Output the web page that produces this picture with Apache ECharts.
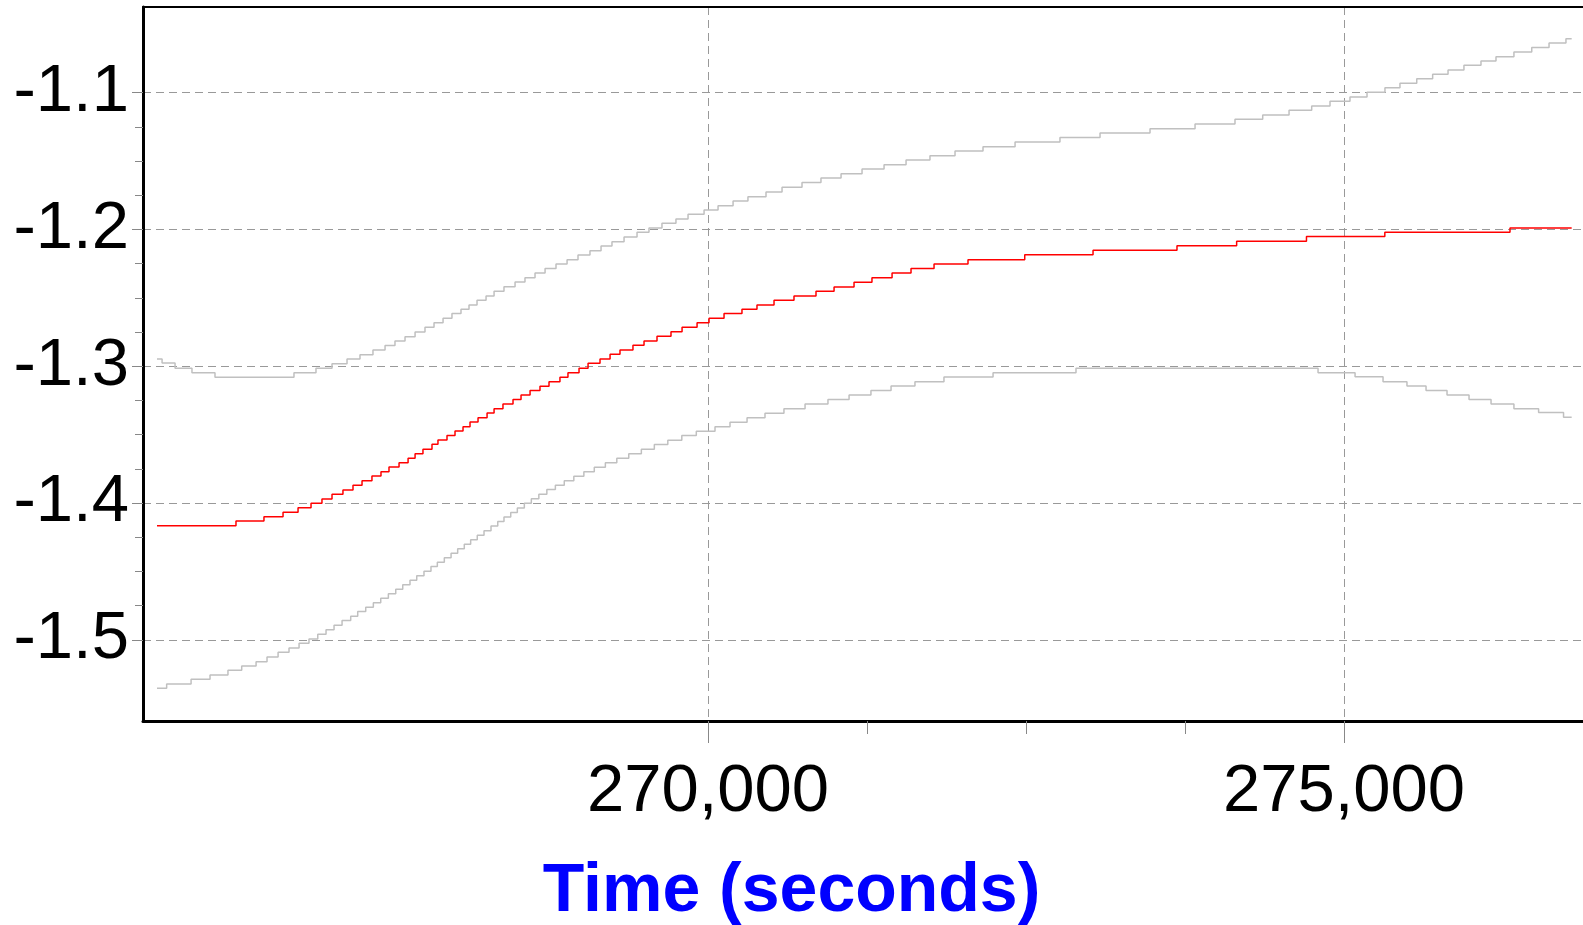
<!DOCTYPE html>
<html><head><meta charset="utf-8">
<script src="https://cdn.jsdelivr.net/npm/echarts@6/dist/echarts.min.js"></script>
<style>html,body{margin:0;padding:0;background:#fff}#c{width:1583px;height:925px}</style>
</head><body><div id="c"></div>
<script>
// Tick values
const xMajorTicks = [270000, 275000];
const xMinorTicks = [271250, 272500, 273750];
const yMajorTicks = [-1.5, -1.4, -1.3, -1.2, -1.1];
const yMinorTicks = [-1.475, -1.45, -1.425, -1.375, -1.35, -1.325, -1.275, -1.25, -1.225, -1.175, -1.15, -1.125];

// Red (estimate) step line
const redT = [265668, 266289, 266509, 266659, 266777, 266879, 266965, 267044, 267130, 267209, 267280, 267358, 267429, 267492, 267571, 267642, 267697, 267759, 267830, 267877, 267948, 268011, 268074, 268129, 268192, 268263, 268318, 268388, 268467, 268530, 268601, 268679, 268750, 268836, 268899, 268986, 269057, 269151, 269230, 269308, 269410, 269497, 269599, 269709, 269796, 269914, 270008, 270126, 270267, 270385, 270519, 270676, 270849, 270991, 271148, 271289, 271447, 271596, 271777, 272044, 272490, 273027, 273687, 274156, 274705, 275321, 276305, 276790];
const redV = [-1.4166, -1.4131, -1.4100, -1.4068, -1.4034, -1.4002, -1.3970, -1.3936, -1.3905, -1.3870, -1.3837, -1.3802, -1.3771, -1.3736, -1.3705, -1.3673, -1.3639, -1.3607, -1.3570, -1.3539, -1.3507, -1.3473, -1.3442, -1.3407, -1.3376, -1.3341, -1.3310, -1.3276, -1.3244, -1.3210, -1.3178, -1.3146, -1.3113, -1.3080, -1.3047, -1.3015, -1.2978, -1.2947, -1.2912, -1.2881, -1.2846, -1.2815, -1.2781, -1.2747, -1.2715, -1.2681, -1.2649, -1.2615, -1.2583, -1.2552, -1.2517, -1.2486, -1.2452, -1.2420, -1.2386, -1.2352, -1.2318, -1.2286, -1.2252, -1.2221, -1.2184, -1.2152, -1.2118, -1.2086, -1.2052, -1.2020, -1.1989, -1.1989];

// Upper bound (grey)
const upperT = [265668, 265708, 265810, 265943, 266124, 266745, 266918, 267044, 267162, 267264, 267366, 267461, 267539, 267618, 267697, 267775, 267846, 267917, 267987, 268058, 268121, 268184, 268255, 268318, 268396, 268483, 268561, 268640, 268719, 268805, 268892, 268978, 269072, 269159, 269245, 269340, 269442, 269536, 269638, 269748, 269843, 269969, 270079, 270197, 270314, 270456, 270582, 270739, 270888, 271046, 271211, 271384, 271557, 271745, 271942, 272162, 272414, 272767, 273082, 273475, 273829, 274143, 274361, 274568, 274746, 274890, 275047, 275181, 275322, 275440, 275572, 275697, 275818, 275943, 276077, 276195, 276336, 276476, 276612, 276745, 276790];
const upperV = [-1.2947, -1.2976, -1.3015, -1.3047, -1.3080, -1.3047, -1.3015, -1.2981, -1.2947, -1.2915, -1.2881, -1.2849, -1.2815, -1.2784, -1.2749, -1.2715, -1.2681, -1.2649, -1.2615, -1.2583, -1.2552, -1.2517, -1.2486, -1.2452, -1.2418, -1.2384, -1.2352, -1.2318, -1.2286, -1.2252, -1.2221, -1.2186, -1.2155, -1.2120, -1.2089, -1.2055, -1.2020, -1.1989, -1.1954, -1.1923, -1.1889, -1.1857, -1.1826, -1.1791, -1.1760, -1.1726, -1.1691, -1.1657, -1.1623, -1.1592, -1.1557, -1.1526, -1.1492, -1.1460, -1.1426, -1.1394, -1.1360, -1.1328, -1.1294, -1.1263, -1.1228, -1.1194, -1.1162, -1.1128, -1.1097, -1.1062, -1.1031, -1.0997, -1.0963, -1.0931, -1.0897, -1.0865, -1.0833, -1.0799, -1.0768, -1.0736, -1.0702, -1.0670, -1.0636, -1.0605, -1.0605];

// Lower bound (grey)
const lowerT = [265668, 265744, 265936, 266085, 266226, 266334, 266447, 266533, 266620, 266706, 266785, 266863, 266932, 266997, 267060, 267123, 267191, 267246, 267309, 267369, 267427, 267487, 267545, 267600, 267657, 267710, 267767, 267822, 267872, 267927, 267980, 268032, 268084, 268134, 268186, 268239, 268294, 268347, 268396, 268449, 268501, 268556, 268611, 268670, 268733, 268800, 268870, 268945, 269024, 269106, 269193, 269283, 269377, 269476, 269578, 269684, 269794, 269908, 270055, 270173, 270307, 270448, 270597, 270763, 270943, 271109, 271281, 271439, 271627, 271855, 272241, 272893, 274796, 275087, 275307, 275495, 275645, 275810, 275983, 276156, 276336, 276530, 276726, 276790];
const lowerV = [-1.5355, -1.5323, -1.5289, -1.5257, -1.5223, -1.5191, -1.5160, -1.5126, -1.5091, -1.5060, -1.5025, -1.4994, -1.4960, -1.4926, -1.4894, -1.4860, -1.4828, -1.4794, -1.4762, -1.4729, -1.4696, -1.4663, -1.4631, -1.4597, -1.4565, -1.4531, -1.4499, -1.4465, -1.4433, -1.4400, -1.4367, -1.4334, -1.4302, -1.4268, -1.4236, -1.4202, -1.4168, -1.4136, -1.4102, -1.4070, -1.4036, -1.4002, -1.3968, -1.3936, -1.3902, -1.3870, -1.3837, -1.3804, -1.3771, -1.3739, -1.3705, -1.3673, -1.3639, -1.3607, -1.3573, -1.3541, -1.3507, -1.3475, -1.3442, -1.3410, -1.3376, -1.3344, -1.3310, -1.3276, -1.3244, -1.3210, -1.3178, -1.3144, -1.3113, -1.3078, -1.3047, -1.3015, -1.3047, -1.3076, -1.3113, -1.3144, -1.3178, -1.3210, -1.3244, -1.3276, -1.3310, -1.3339, -1.3373, -1.3373];

const xAxisTitle = 'Time (seconds)';

const FONT = "'Liberation Sans', Arial, sans-serif";
const X_MIN = 265558, X_MAX = 276879, Y_MIN = -1.5594, Y_MAX = -1.0373;
const pairs = (t, v) => t.map((x, i) => [x, v[i]]);
const tickStyle = {color: '#888', width: 1};

const chart = echarts.init(document.getElementById('c'), null, {renderer: 'canvas'});
chart.setOption({
  animation: false,
  backgroundColor: '#fff',
  grid: {left: 143, right: 0, top: 7, bottom: 204, containLabel: false},
  xAxis: [
    {type: 'value', min: X_MIN, max: X_MAX, position: 'bottom',
     axisLine: {show: true, onZero: false, lineStyle: {color: '#000', width: 3}},
     axisTick: {show: true, customValues: xMajorTicks, length: 22, lineStyle: tickStyle},
     axisLabel: {show: true, customValues: xMajorTicks, margin: 38, fontSize: 67, lineHeight: 67, fontFamily: FONT, color: '#000',
                 formatter: v => Number(v).toLocaleString('en-US')},
     splitLine: {show: true, lineStyle: {color: '#999', type: [8, 5], width: 1}},
     minorTick: {show: false}},
    {type: 'value', min: X_MIN, max: X_MAX, position: 'bottom',
     axisLine: {show: false}, axisTick: {show: true, customValues: xMinorTicks, length: 13, lineStyle: tickStyle},
     axisLabel: {show: false}, splitLine: {show: false}},
    {type: 'value', min: X_MIN, max: X_MAX, position: 'top',
     axisLine: {show: true, onZero: false, lineStyle: {color: '#000', width: 2}},
     axisTick: {show: false}, axisLabel: {show: false}, splitLine: {show: false}}
  ],
  yAxis: [
    {type: 'value', min: Y_MIN, max: Y_MAX, position: 'left',
     axisLine: {show: true, onZero: false, lineStyle: {color: '#000', width: 3}},
     axisTick: {show: true, customValues: yMajorTicks, length: 11, lineStyle: tickStyle},
     axisLabel: {show: true, customValues: yMajorTicks, margin: 14, fontSize: 67, fontFamily: FONT, color: '#000',
                 padding: [5, 0, 0, 0], formatter: v => Number(v).toFixed(1)},
     splitLine: {show: true, lineStyle: {color: '#999', type: [8, 5], width: 1}},
     minorTick: {show: false}},
    {type: 'value', min: Y_MIN, max: Y_MAX, position: 'left',
     axisLine: {show: false}, axisTick: {show: true, customValues: yMinorTicks, length: 8, lineStyle: tickStyle},
     axisLabel: {show: false}, splitLine: {show: false}}
  ],
  graphic: [{
    type: 'text', x: 791.5, y: 892, silent: true,
    style: {text: xAxisTitle, fill: '#0000ff', fontSize: 68, fontWeight: 'bold', fontFamily: FONT,
            align: 'center', verticalAlign: 'middle', textAlign: 'center', textVerticalAlign: 'middle'}
  }],
  series: [
    {name: 'upper', type: 'line', step: 'end', xAxisIndex: 0, yAxisIndex: 0, data: pairs(upperT, upperV),
     showSymbol: false, symbol: 'none', lineStyle: {color: '#c0c0c0', width: 1.5}, silent: true, z: 2},
    {name: 'lower', type: 'line', step: 'end', xAxisIndex: 0, yAxisIndex: 0, data: pairs(lowerT, lowerV),
     showSymbol: false, symbol: 'none', lineStyle: {color: '#c0c0c0', width: 1.5}, silent: true, z: 2},
    {name: 'estimate', type: 'line', step: 'end', xAxisIndex: 0, yAxisIndex: 0, data: pairs(redT, redV),
     showSymbol: false, symbol: 'none', lineStyle: {color: '#ff0000', width: 1.5}, silent: true, z: 3}
  ]
});
</script></body></html>
